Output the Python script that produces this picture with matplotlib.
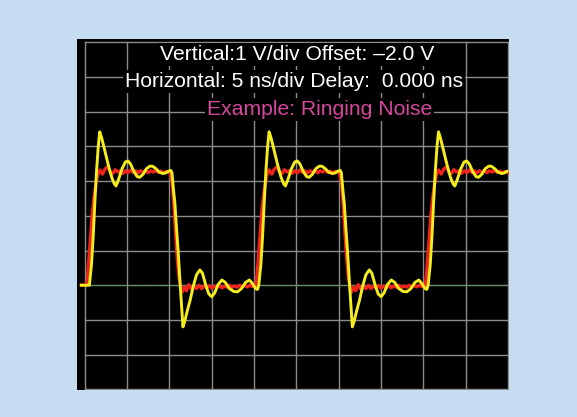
import matplotlib
matplotlib.use('Agg')
import matplotlib.pyplot as plt
import numpy as np

# Scope settings (grid divisions)
N_DIV = 10
CYCLE_STARTS = [0.0, 4.0, 8.0]      # rising edge of each cycle, in divisions
BASELINE = 3.0

LABELS = ["Vertical:1 V/div Offset: \u20132.0 V",
          "Horizontal: 5 ns/div Delay:  0.000 ns"]
TITLE = "Example: Ringing Noise"

# one cycle of the ringing (yellow) trace (div, div)
yellow_t = [0.11, 0.16, 0.20, 0.24, 0.28, 0.32, 0.355, 0.40, 0.48, 0.56,
            0.64, 0.70, 0.74, 0.80, 0.88, 0.96, 1.02, 1.08, 1.16, 1.24,
            1.30, 1.38, 1.46, 1.54, 1.60, 1.68, 1.76, 1.84, 1.90, 1.97,
            2.03, 2.06, 2.10, 2.13, 2.17, 2.21, 2.25, 2.29, 2.32, 2.36,
            2.42, 2.49, 2.56, 2.64, 2.72, 2.78, 2.86, 2.93, 3.00, 3.07,
            3.15, 3.24, 3.32, 3.42, 3.52, 3.61, 3.70, 3.80, 3.89, 3.96,
            4.04, 4.08]
yellow_v = [3.00, 3.60, 4.40, 5.40, 6.30, 7.00, 7.42, 7.25, 6.85, 6.45,
            6.10, 5.92, 5.86, 6.05, 6.35, 6.55, 6.58, 6.50, 6.28, 6.13,
            6.11, 6.20, 6.36, 6.43, 6.43, 6.36, 6.26, 6.22, 6.23, 6.28,
            6.31, 6.25, 5.70, 5.36, 4.60, 3.92, 3.10, 2.38, 1.80, 1.95,
            2.25, 2.57, 2.95, 3.30, 3.44, 3.35, 3.00, 2.75, 2.67, 2.78,
            3.02, 3.15, 3.08, 2.90, 2.82, 2.81, 2.90, 3.08, 3.15, 3.05,
            2.90, 2.88]

# one cycle of the clean (red) trace
red_t = [0.04, 0.07, 0.10, 0.14, 0.18, 0.22, 0.26, 0.30, 0.33, 0.36,
         0.42, 0.48, 0.55, 0.60, 0.66, 0.72, 0.78, 0.84, 0.90, 0.96,
         1.02, 1.08, 1.14, 1.20, 1.26, 1.32, 1.38, 1.44, 1.50, 1.56,
         1.62, 1.68, 1.74, 1.80, 1.86, 1.92, 1.98, 2.02, 2.07, 2.11,
         2.15, 2.19, 2.23, 2.26, 2.30, 2.35, 2.40, 2.46, 2.52, 2.58,
         2.64, 2.70, 2.76, 2.82, 2.88, 2.94, 3.00, 3.06, 3.12, 3.18,
         3.24, 3.30, 3.36, 3.42, 3.48, 3.54, 3.60, 3.66, 3.72, 3.78,
         3.84, 3.90, 3.96, 4.02]
red_v = [3.00, 3.30, 3.80, 4.50, 5.10, 5.55, 5.90, 6.15, 6.25, 6.32,
         6.20, 6.35, 6.42, 6.25, 6.22, 6.33, 6.26, 6.30, 6.22, 6.30,
         6.24, 6.32, 6.25, 6.30, 6.23, 6.30, 6.25, 6.31, 6.24, 6.30,
         6.26, 6.31, 6.25, 6.29, 6.24, 6.28, 6.26, 6.22, 5.90, 5.20,
         4.40, 3.70, 3.20, 2.98, 2.80, 2.95, 2.84, 3.02, 2.88, 2.98,
         2.90, 3.00, 2.90, 2.98, 2.92, 2.99, 2.91, 2.98, 2.93, 3.00,
         2.92, 2.98, 2.94, 3.00, 2.93, 2.98, 2.94, 3.00, 2.95, 2.99,
         2.95, 3.00, 2.96, 3.00]

TRACE_START = -0.08


def build_trace(ct, cv):
    t = [TRACE_START]
    v = [BASELINE]
    for s in CYCLE_STARTS:
        for a, b in zip(ct, cv):
            if s + a <= N_DIV + 0.02:
                t.append(s + a)
                v.append(b)
    return np.array(t), np.array(v)


def main():
    W, H, DPI = 577, 417, 100
    fig = plt.figure(figsize=(W / DPI, H / DPI), dpi=DPI, facecolor='#c6ddf1')
    left, right, top, bottom = 77, 509, 39, 390
    ax = fig.add_axes([left / W, (H - bottom) / H, (right - left) / W, (bottom - top) / H])
    ax.set_facecolor('black')
    ax.set_xlim(-0.182, 10.02)
    ax.set_ylim(-0.02, 10.095)
    ax.set_xticks([])
    ax.set_yticks([])
    for sp in ax.spines.values():
        sp.set_visible(False)

    # graticule
    for i in range(N_DIV + 1):
        ax.plot([i, i], [0, N_DIV], color='#8c8c8c', lw=1.0, zorder=1)
        ax.plot([0, N_DIV], [i, i], color='#8c8c8c', lw=1.0, zorder=1)
    ax.plot([TRACE_START, N_DIV], [BASELINE, BASELINE], color='#3f8f3f',
            lw=0.8, ls=(0, (2, 1.5)), zorder=2)

    rt, rv = build_trace(red_t, red_v)
    yt, yv = build_trace(yellow_t, yellow_v)
    ax.plot(rt, rv, color='#f2231c', lw=2.3, zorder=3, solid_joinstyle='round')
    ax.plot(yt, yv, color='#f6ee1c', lw=2.1, zorder=4, solid_joinstyle='round')

    box = dict(facecolor='black', edgecolor='none', pad=1.5)
    font = ['Liberation Sans', 'DejaVu Sans']
    ax.text(5.01, 9.65, LABELS[0], color='white', fontsize=15.2, family=font,
            ha='center', va='center', bbox=box, zorder=5)
    ax.text(4.95, 8.86, LABELS[1], color='white', fontsize=15.2, family=font,
            ha='center', va='center', bbox=box, zorder=5)
    ax.text(5.54, 8.07, TITLE, color='#d5489d', fontsize=15.2, family=font,
            ha='center', va='center', bbox=box, zorder=5)

    fig.savefig('out.png', dpi=DPI, facecolor=fig.get_facecolor())


if __name__ == '__main__':
    main()
